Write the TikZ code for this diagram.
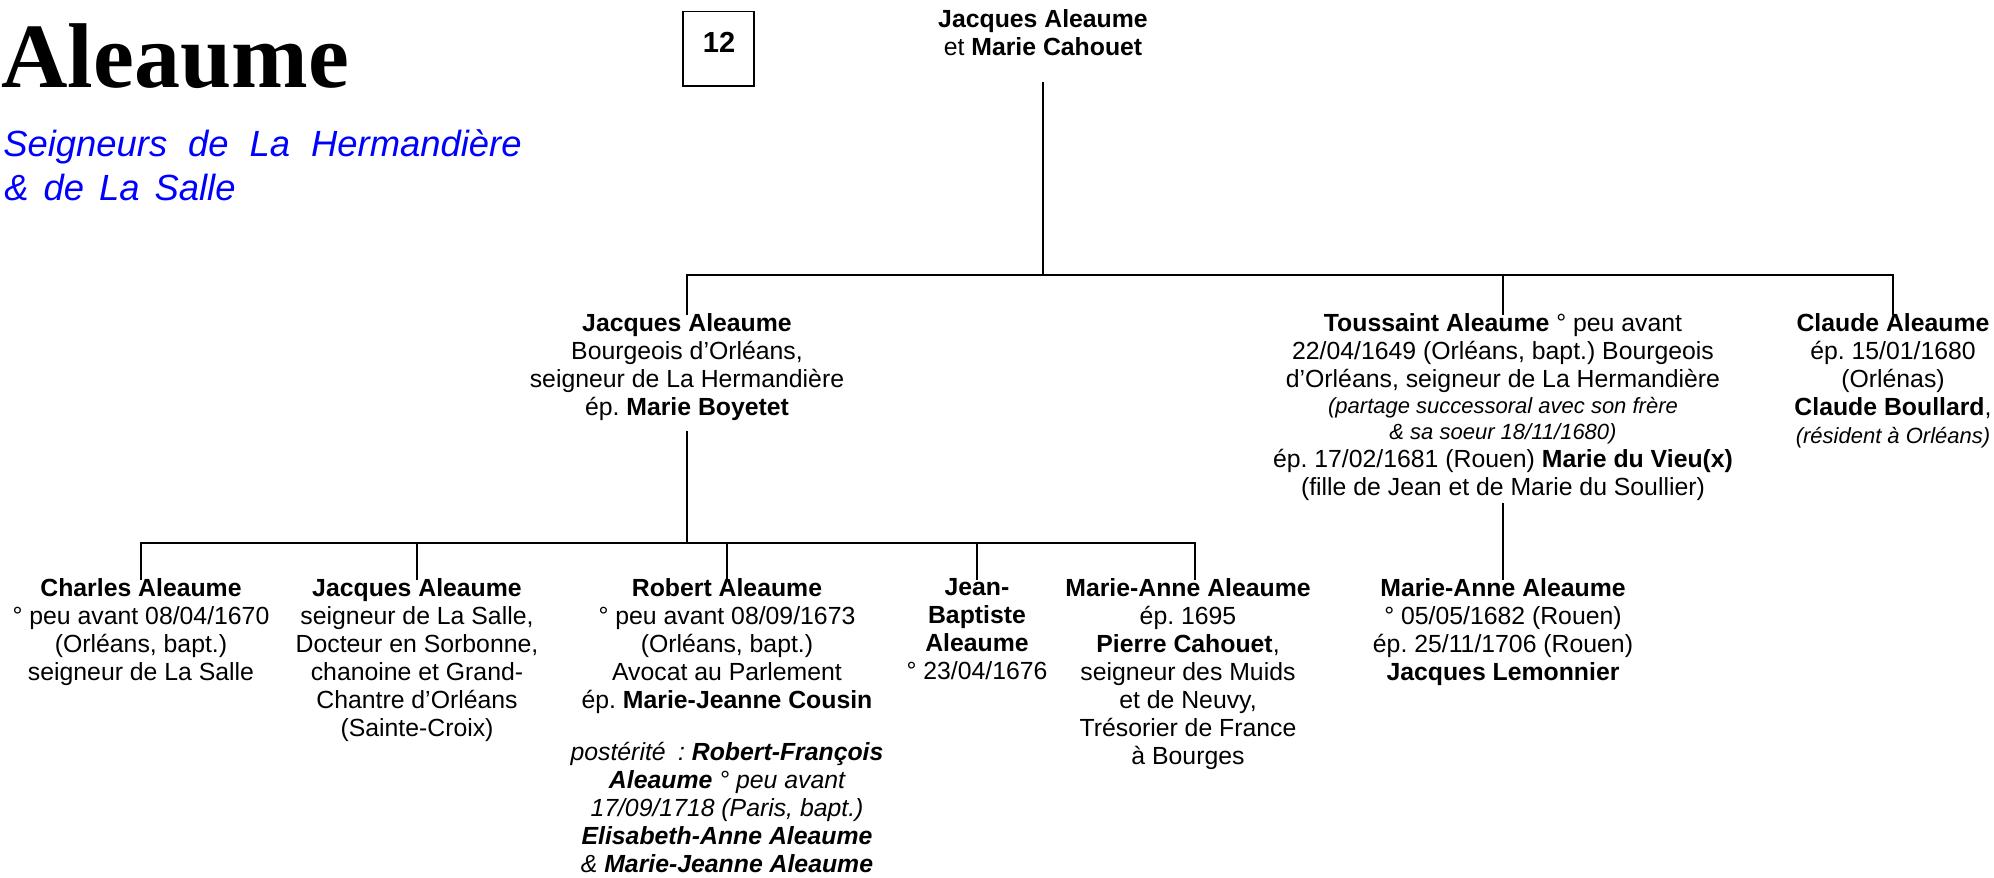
\documentclass[tikz,border=0pt]{standalone}
\usepackage{fontspec}
\setmainfont{Liberation Sans}
\newfontfamily\titlefont{Liberation Serif}
\tikzset{
  conn/.style={line width=1.4pt, line cap=rect},
  person/.style={align=center, inner sep=0pt, anchor=north,
    font=\fontsize{12.4}{14}\selectfont, execute at begin node=\strut},
}
\newcommand{\sit}{\fontsize{11}{13}\selectfont\itshape}
\frenchspacing
\begin{document}
\frenchspacing
\begin{tikzpicture}[x=0.5pt,y=-0.5pt]
\useasboundingbox (0,0) rectangle (1994,878);

% title block
\node (title) [anchor=base west, inner sep=0pt,
  font=\titlefont\fontsize{46}{50}\selectfont\bfseries] at (1,87) {Aleaume};
\node (sub1) [anchor=base west, inner sep=0pt, text=blue,
  font=\fontsize{18.2}{22}\selectfont\itshape] at (3,156)
  {\spaceskip=10.5pt Seigneurs de La Hermandière};
\node (sub2) [anchor=base west, inner sep=0pt, text=blue,
  font=\fontsize{18.2}{22}\selectfont\itshape] at (4,200)
  {\spaceskip=7.5pt \& de La Salle};

% number box
\node (numbox) [draw, line width=0.7pt, minimum width=35.6pt, minimum height=37.2pt,
  inner sep=0pt] at (718.4,48.9) {};
\node (num) [anchor=base, inner sep=0pt, font=\bfseries\fontsize{14.5}{16}\selectfont]
  at (719,53) {12};

% generation 1
\node (root) [person] at (1043,9.4)
  {{\bfseries Jacques Aleaume}\\ et {\bfseries Marie Cahouet}};

% generation 2
\node (jac2) [person] at (687,313.4)
  {{\bfseries Jacques Aleaume}\\
   Bourgeois d’Orléans,\\
   seigneur de La Hermandière\\
   ép. {\bfseries Marie Boyetet}};
\node (tou) [person] at (1503,313.4)
  {{\bfseries Toussaint Aleaume} ° peu avant\\
   22/04/1649 (Orléans, bapt.) Bourgeois\\
   d’Orléans, seigneur de La Hermandière\\[-1pt]
   {\sit (partage successoral avec son frère}\\[-1pt]
   {\sit \& sa soeur 18/11/1680)}\\
   ép. 17/02/1681 (Rouen) {\bfseries Marie du Vieu(x)}\\
   (fille de Jean et de Marie du Soullier)};
\node (cla) [person] at (1893,313.4)
  {{\bfseries Claude Aleaume}\\
   ép. 15/01/1680\\
   (Orlénas)\\
   {\bfseries Claude Boullard},\\
   {\sit (résident à Orléans)}};

% generation 3
\node (cha) [person] at (141,578.4)
  {{\bfseries Charles Aleaume}\\
   ° peu avant 08/04/1670\\
   (Orléans, bapt.)\\
   seigneur de La Salle};
\node (jac3) [person] at (417,578.4)
  {{\bfseries Jacques Aleaume}\\
   seigneur de La Salle,\\
   Docteur en Sorbonne,\\
   chanoine et Grand-\\
   Chantre d’Orléans\\
   (Sainte-Croix)};
\node (rob) [person] at (727,578.4)
  {{\bfseries Robert Aleaume}\\
   ° peu avant 08/09/1673\\
   (Orléans, bapt.)\\
   Avocat au Parlement\\
   ép. {\bfseries Marie-Jeanne Cousin}\\[12pt]
   {\itshape postérité\enspace: \bfseries Robert-François}\\
   {\itshape\bfseries Aleaume} {\itshape ° peu avant}\\
   {\itshape 17/09/1718 (Paris, bapt.)}\\
   {\itshape\bfseries Elisabeth-Anne Aleaume}\\
   {\itshape \& \bfseries Marie-Jeanne Aleaume}};
\node (jb) [person] at (977,578.4)
  {{\bfseries Jean-}\\
   {\bfseries Baptiste}\\
   {\bfseries Aleaume}\\
   ° 23/04/1676};
\node (ma) [person] at (1188,578.4)
  {{\bfseries Marie-Anne Aleaume}\\
   ép. 1695\\
   {\bfseries Pierre Cahouet},\\
   seigneur des Muids\\
   et de Neuvy,\\
   Trésorier de France\\
   à Bourges};
\node (ma2) [person] at (1503,578.4)
  {{\bfseries Marie-Anne Aleaume}\\
   ° 05/05/1682 (Rouen)\\
   ép. 25/11/1706 (Rouen)\\
   {\bfseries Jacques Lemonnier}};

% connector helper coordinates
\coordinate (rootdown) at (1043,83);
\coordinate (bar1) at (0,275);
\coordinate (jac2down) at (687,432);
\coordinate (bar2) at (0,543);
\coordinate (madrop) at (1195,578.4);

% connectors generation 1 -> 2
\draw[conn] (rootdown) -- (rootdown |- bar1);
\draw[conn] (jac2.north |- bar1) -- (cla.north |- bar1);
\draw[conn] (jac2.north |- bar1) -- (jac2.north);
\draw[conn] (tou.north |- bar1) -- (tou.north);
\draw[conn] (cla.north |- bar1) -- (cla.north);

% connectors generation 2 -> 3
\draw[conn] (jac2down) -- (jac2down |- bar2);
\draw[conn] (cha.north |- bar2) -- (madrop |- bar2);
\draw[conn] (cha.north |- bar2) -- (cha.north);
\draw[conn] (jac3.north |- bar2) -- (jac3.north);
\draw[conn] (rob.north |- bar2) -- (rob.north);
\draw[conn] (jb.north |- bar2) -- (jb.north);
\draw[conn] (madrop |- bar2) -- (madrop);
\draw[conn] (tou.south) -- (ma2.north);
\end{tikzpicture}
\end{document}
